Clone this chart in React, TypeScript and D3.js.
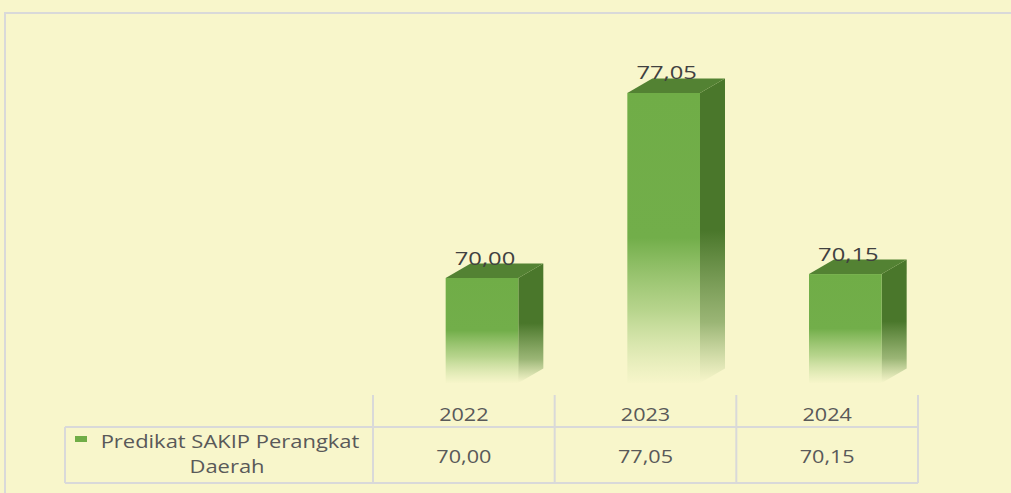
import React from "react";
import * as d3 from "d3";

const categories = ["2022", "2023", "2024"];
const values = [70.0, 77.05, 70.15];
const valueLabels = ["70,00", "77,05", "70,15"];
const seriesName = ["Predikat SAKIP Perangkat", "Daerah"];

const W = 1011;
const H = 493;
const FONT = "'Open Sans', sans-serif";

export default function App() {
  const x = d3.scaleBand<string>().domain(categories).range([373, 918]).padding(0);
  const y = d3.scaleLinear().domain([66, 78]).range([383, 68]);
  const bw = x.bandwidth() * 0.4;
  const dx = 25;
  const dy = 14.5;
  const base = y(66);
  const tableTop = 395;
  const rowSep = 427;
  const tableBottom = 483;
  const legendLeft = 65;
  const grid = "#D9D9D9";
  const txt = "#595959";

  const stretched = (tx: number, ty: number, s: string, size: number, color: string, sx: number) => (
    <g transform={`translate(${tx},${ty}) scale(${sx},1)`}>
      <text textAnchor="middle" fontFamily={FONT} fontSize={size} fill={color}>
        {s}
      </text>
    </g>
  );

  return (
    <svg width={W} height={H} style={{ position: "absolute", left: 0, top: 0 }}>
      <defs>
        <linearGradient id="front" x1="0" y1="0" x2="0" y2="1">
          <stop offset="0" stopColor="#70AD47" stopOpacity={1} />
          <stop offset="0.5" stopColor="#72AE4A" stopOpacity={1} />
          <stop offset="0.75" stopColor="#8CBE63" stopOpacity={0.6} />
          <stop offset="1" stopColor="#A9CF85" stopOpacity={0.02} />
        </linearGradient>
        <linearGradient id="side" x1="0" y1="0" x2="0" y2="1">
          <stop offset="0" stopColor="#4A772B" stopOpacity={1} />
          <stop offset="0.5" stopColor="#4A772B" stopOpacity={1} />
          <stop offset="0.8" stopColor="#5C8A3C" stopOpacity={0.6} />
          <stop offset="1" stopColor="#6E9A50" stopOpacity={0} />
        </linearGradient>
      </defs>
      <rect x={0} y={0} width={W} height={H} fill="#F8F6CB" />
      <rect x={5} y={13} width={1200} height={700} fill="none" stroke={grid} strokeWidth={2} />

      {categories.map((c, i) => {
        const x0 = (x(c) as number) + x.bandwidth() * 0.4;
        const top = y(values[i]);
        const h = base - top;
        return (
          <g key={c}>
            <path
              d={`M${x0 + bw},${top} L${x0 + bw + dx},${top - dy} L${x0 + bw + dx},${base - dy} L${x0 + bw},${base} Z`}
              fill="url(#side)"
            />
            <rect x={x0} y={top} width={bw} height={h} fill="url(#front)" />
            <path
              d={`M${x0},${top} L${x0 + dx},${top - dy} L${x0 + bw + dx},${top - dy} L${x0 + bw},${top} Z`}
              fill="#538233"
            />
            {stretched(x0 + bw / 2 + 3, top - dy + 1, valueLabels[i], 19, "#404040", 1.25)}
          </g>
        );
      })}

      {/* data table */}
      <g stroke={grid} strokeWidth={2}>
        {[...categories.map((c) => x(c) as number), x.range()[1]].map((vx, i) => (
          <line key={i} x1={vx} x2={vx} y1={tableTop} y2={tableBottom} />
        ))}
        <line x1={legendLeft} x2={legendLeft} y1={rowSep} y2={tableBottom} />
        <line x1={legendLeft} x2={x.range()[1]} y1={rowSep} y2={rowSep} />
        <line x1={legendLeft} x2={x.range()[1]} y1={tableBottom} y2={tableBottom} />
      </g>
      {categories.map((c, i) => (
        <g key={c}>
          {stretched((x(c) as number) + x.bandwidth() / 2, 421, c, 18, txt, 1.2)}
          {stretched((x(c) as number) + x.bandwidth() / 2, 463, valueLabels[i], 18, txt, 1.2)}
        </g>
      ))}
      <rect x={75} y={436} width={12} height={6} fill="#70AD47" />
      {stretched(230, 448, seriesName[0], 18, txt, 1.22)}
      {stretched(227, 473, seriesName[1], 18, txt, 1.22)}
    </svg>
  );
}
